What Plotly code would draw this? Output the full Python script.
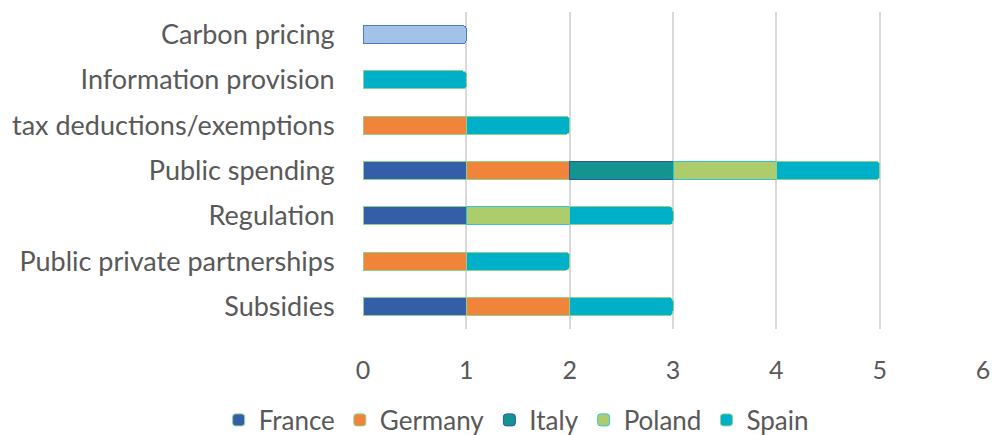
import plotly.graph_objects as go

categories = ["Subsidies", "Public private partnerships", "Regulation",
              "Public spending", "tax deductions/exemptions",
              "Information provision", "Carbon pricing"]

france = [1, 0, 1, 1, 0, 0, 1]
germany = [1, 1, 0, 1, 1, 0, 0]
italy = [0, 0, 0, 1, 0, 0, 0]
poland = [0, 0, 1, 1, 0, 0, 0]
spain = [1, 1, 1, 1, 1, 1, 0]

x_ticks = [0, 1, 2, 3, 4, 5, 6]

series = [
    ("France", france, "#355ea9", "#8fd18a"),
    ("Germany", germany, "#f0843a", "#8fd18a"),
    ("Italy", italy, "#149490", "#2f55a4"),
    ("Poland", poland, "#adcd6d", "#33c3d6"),
    ("Spain", spain, "#00b0c8", "#8fd18a"),
]

fig = go.Figure()
for name, vals, color, line in series:
    colors = [color] * len(vals)
    lines = [line] * len(vals)
    if name == "France":
        # carbon pricing bar has a pale blue gradient look in the original
        colors[-1] = "#a3c2e8"
        lines[-1] = "#4a7cc7"
    fig.add_trace(go.Bar(
        y=categories, x=[v if v else None for v in vals], name=name,
        orientation="h",
        marker=dict(color=colors, line=dict(color=lines, width=1)),
    ))

# page body has an 8px margin, so the figure is a bit smaller than the window;
# a little extra right margin keeps the last tick label on screen
fig.update_layout(
    template="none",
    barmode="stack",
    bargap=0.6,
    barcornerradius=4,
    width=990, height=427,
    margin=dict(l=355, r=15, t=4, b=106, autoexpand=False),
    plot_bgcolor="white",
    paper_bgcolor="white",
    font=dict(family="Lato", size=27, color="#595959"),
    legend=dict(orientation="h", x=0.247, xanchor="center", y=-0.287,
                yanchor="middle", font=dict(size=26), traceorder="normal",
                itemwidth=30, bgcolor="rgba(0,0,0,0)"),
    showlegend=True,
)
fig.update_xaxes(range=[0, 6], tickvals=x_ticks, showgrid=True,
                 gridcolor="#d9d9d9", gridwidth=1.5, zeroline=False,
                 showline=False, automargin=False,
                 ticklabeloverflow="allow",
                 ticks="outside", ticklen=19, tickcolor="rgba(0,0,0,0)",
                 tickfont=dict(size=25), fixedrange=True)
fig.update_yaxes(categoryorder="array", categoryarray=categories,
                 ticks="outside", ticklen=22, tickcolor="rgba(0,0,0,0)",
                 showgrid=False, showline=False, automargin=False,
                 zeroline=False, fixedrange=True)

fig.write_html("out.html")
